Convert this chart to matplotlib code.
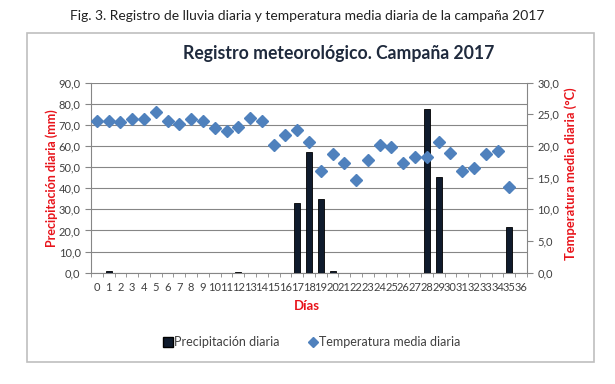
import numpy as np
import matplotlib
matplotlib.use("Agg")
import matplotlib.pyplot as plt
from matplotlib.patches import Rectangle
from matplotlib.ticker import FuncFormatter, MultipleLocator
from matplotlib.lines import Line2D

plt.rcParams['font.family'] = ['Lato', 'DejaVu Sans']

# Datos
dias = list(range(37))
precipitacion = [0, 1.0, 0, 0, 0, 0, 0, 0, 0, 0, 0, 0, 0.5, 0, 0, 0, 0, 33.2, 57.3, 34.7,
                 1.0, 0, 0, 0, 0, 0, 0, 0, 77.4, 45.5, 0, 0, 0, 0, 0, 21.8, 0]
temperatura = [24.0, 23.9, 23.8, 24.2, 24.3, 25.4, 23.9, 23.5, 24.2, 24.0, 22.9, 22.4,
               23.0, 24.5, 23.9, 20.2, 21.8, 22.5, 20.7, 16.0, 18.8, 17.3, 14.7, 17.8,
               20.2, 19.9, 17.3, 18.2, 18.3, 20.7, 18.9, 16.1, 16.6, 18.8, 19.2, 13.5, None]

W, H = 615, 384
fig = plt.figure(figsize=(W / 100, H / 100), dpi=100)

rojo = '#e8141b'
gris_txt = '#404040'
gris_eje = '#868686'

# marco del gráfico
fig.patches.append(Rectangle((27 / W, 1 - 362 / H), (594 - 27) / W, (362 - 33) / H,
                             transform=fig.transFigure, fill=False,
                             edgecolor='#bfbfbf', lw=1.2))

fig.text(0.5, 1 - 16 / H,
         'Fig. 3. Registro de lluvia diaria y temperatura media diaria de la campaña 2017',
         ha='center', va='center', fontsize=10, color='#222222')

ax = fig.add_axes([91 / W, 1 - 272.7 / H, (527 - 91) / W, 190 / H])
ax2 = ax.twinx()

x = np.array(dias)
ax.bar(x, precipitacion, width=0.5, color='#0f1b2d', edgecolor='#000000', lw=0.6, zorder=3)
temp = np.array([np.nan if t is None else t for t in temperatura])
ax2.plot(x, temp, ls='none', marker='D', ms=6.5, color='#4f81bd', zorder=4)

ax.set_xlim(-0.5, 36.5)
ax.set_ylim(0, 90)
ax2.set_ylim(0, 30)
ax.yaxis.set_major_locator(MultipleLocator(10))
ax2.yaxis.set_major_locator(MultipleLocator(5))
fmt = FuncFormatter(lambda v, p: f'{v:.1f}'.replace('.', ','))
ax.yaxis.set_major_formatter(fmt)
ax2.yaxis.set_major_formatter(fmt)

ax.set_xticks(x)
ax.set_xticklabels([str(d) for d in dias])
ax.set_xticks(np.arange(-0.5, 37, 1), minor=True)

ax.grid(axis='y', color='#868686', lw=0.8, zorder=0)
ax.set_axisbelow(True)

for a in (ax, ax2):
    a.set_facecolor('none')
    a.spines['top'].set_visible(False)
    for s in ('left', 'right', 'bottom'):
        a.spines[s].set_color(gris_eje)
ax.spines['right'].set_visible(False)
ax2.spines['left'].set_visible(False)
ax2.spines['bottom'].set_visible(False)

ax.tick_params(axis='x', which='major', length=0, labelsize=8, colors=gris_txt, pad=7)
ax.tick_params(axis='x', which='minor', length=3, color=gris_eje)
ax.tick_params(axis='y', length=4, labelsize=8, colors=gris_txt, color=gris_eje)
ax2.tick_params(axis='y', length=4, labelsize=8, colors=gris_txt, color=gris_eje)

fig.text(339 / W, 1 - 53 / H, 'Registro meteorológico. Campaña 2017', ha='center', va='center',
         fontsize=12.7, fontweight='bold', color='#1f2a3d')
fig.text(52 / W, 1 - 178 / H, 'Precipitación diaria (mm)', rotation=90, ha='center',
         va='center', fontsize=9, fontweight='bold', color=rojo)
fig.text(571 / W, 1 - 174 / H, 'Temperatura media diaria (°C)', rotation=90, ha='center',
         va='center', fontsize=9.3, fontweight='bold', color=rojo)
fig.text(307 / W, 1 - 306 / H, 'Días', ha='center', va='center', fontsize=9.5,
         fontweight='bold', color=rojo)

handles = [Line2D([], [], ls='none', marker='s', ms=7, color='#0f1b2d', mec='#000000'),
           Line2D([], [], ls='none', marker='D', ms=5, color='#4f81bd')]
fig.legend(handles, ['Precipitación diaria', 'Temperatura media diaria'],
           loc='center', bbox_to_anchor=(311 / W, 1 - 342 / H), ncol=2, frameon=False,
           fontsize=9, handletextpad=0.0, columnspacing=2.2, handlelength=1.0,
           labelcolor=gris_txt)

fig.savefig('out.png', dpi=100)
